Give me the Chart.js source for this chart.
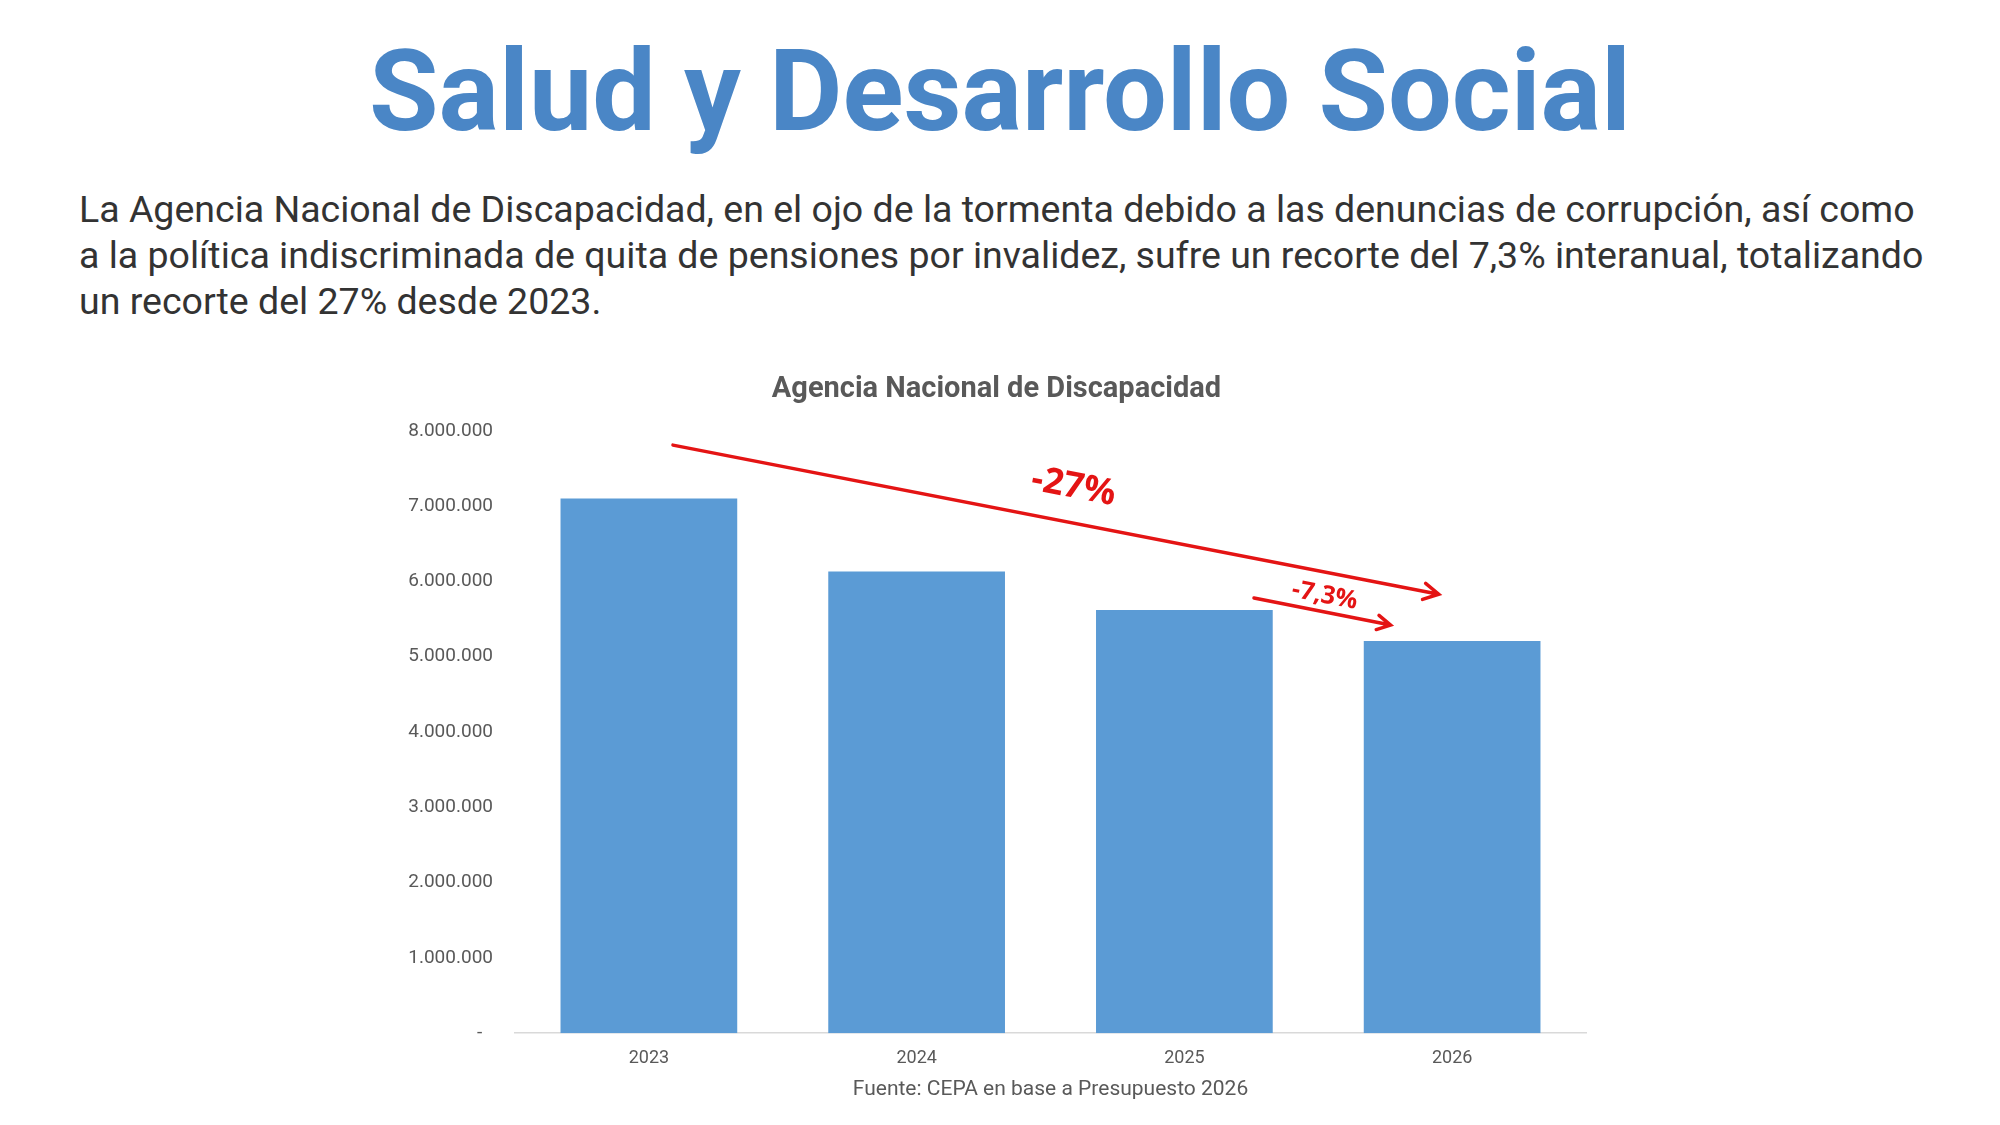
<!DOCTYPE html>
<html lang="es">
<head>
<meta charset="utf-8">
<title>Salud y Desarrollo Social</title>
<script src="https://cdn.jsdelivr.net/npm/chart.js@4.4.1/dist/chart.umd.min.js"></script>
<style>
  html, body { margin: 0; padding: 0; background: #fff; }
  body { width: 2000px; height: 1125px; position: relative; overflow: hidden; font-family: Roboto, "Noto Sans", sans-serif; }
  h1 {
    position: absolute; left: 0; top: 22px; width: 2000px; margin: 0;
    text-align: center; font-size: 113px; font-weight: 700; color: #4a86c6; line-height: 140px;
  }
  p.intro {
    position: absolute; left: 79px; top: 186px; width: 1862px; margin: 0;
    font-size: 37.5px; line-height: 46px; color: #333333;
  }
  #wrap { position: absolute; left: 340px; top: 362px; width: 1280px; height: 750px; }
</style>
</head>
<body>
<h1>Salud y Desarrollo Social</h1>
<p class="intro">La Agencia Nacional de Discapacidad, en el ojo de la tormenta debido a las denuncias de corrupción, así como a la política indiscriminada de quita de pensiones por invalidez, sufre un recorte del 7,3% interanual, totalizando un recorte del 27% desde 2023.</p>
<div id="wrap"><canvas id="anadis-chart"></canvas></div>
<script>
const years = ['2023', '2024', '2025', '2026'];
const budget = [7100000, 6130000, 5620000, 5210000];
const yTicks = [0, 1000000, 2000000, 3000000, 4000000, 5000000, 6000000, 7000000, 8000000];

// red arrows, in chart units: [category index, value]
const arrows = [
  { from: [0.09, 7810000], to: [2.95, 5830000], width: 3.5, head: 17 },
  { from: [2.26, 5780000], to: [2.77, 5420000], width: 3.5, head: 15 },
];
const arrowLabels = [
  { text: '-27%', at: [1.586, 7250000], size: 36 },
  { text: '-7,3%', at: [2.524, 5810000], size: 25 },
];

// accounting style: zero shows as a dash
const fmt = (v) => v === 0 ? '-\u2007' : String(v).replace(/\B(?=(\d{3})+(?!\d))/g, '.');

const arrowPlugin = {
  id: 'arrows',
  afterDatasetsDraw(chart) {
    const { ctx, scales: { x, y } } = chart;
    ctx.save();
    ctx.strokeStyle = '#e41414';
    ctx.fillStyle = '#e41414';
    ctx.lineCap = 'round';
    arrows.forEach((a) => {
      const x1 = x.getPixelForValue(a.from[0]);
      const y1 = y.getPixelForValue(a.from[1]);
      const x2 = x.getPixelForValue(a.to[0]);
      const y2 = y.getPixelForValue(a.to[1]);
      const ang = Math.atan2(y2 - y1, x2 - x1);
      ctx.lineWidth = a.width;
      ctx.beginPath();
      ctx.moveTo(x1, y1);
      ctx.lineTo(x2, y2);
      ctx.moveTo(x2 - a.head * Math.cos(ang - 0.5), y2 - a.head * Math.sin(ang - 0.5));
      ctx.lineTo(x2, y2);
      ctx.lineTo(x2 - a.head * Math.cos(ang + 0.5), y2 - a.head * Math.sin(ang + 0.5));
      ctx.stroke();
    });
    arrowLabels.forEach((l) => {
      const px = x.getPixelForValue(l.at[0]);
      const py = y.getPixelForValue(l.at[1]);
      ctx.save();
      ctx.translate(px, py);
      ctx.rotate(0.19);
      ctx.font = `700 ${l.size}px "Open Sans", "Noto Sans", sans-serif`;
      ctx.textAlign = 'center';
      ctx.textBaseline = 'middle';
      ctx.fillText(l.text, 0, 0);
      ctx.restore();
    });
    ctx.restore();
  }
};

const ctx = document.getElementById('anadis-chart').getContext('2d');
new Chart(ctx, {
  type: 'bar',
  data: {
    labels: years,
    datasets: [{
      label: 'Agencia Nacional de Discapacidad',
      data: budget,
      backgroundColor: '#5b9bd5',
      borderWidth: 0,
      categoryPercentage: 0.66,
      barPercentage: 1,
    }],
  },
  options: {
    responsive: true,
    maintainAspectRatio: false,
    animation: false,
    devicePixelRatio: 1,
    layout: { padding: { left: 67, right: 34, top: 0, bottom: 0 } },
    plugins: {
      legend: { display: false },
      tooltip: { enabled: false },
      title: {
        display: true,
        text: 'Agencia Nacional de Discapacidad',
        color: '#595959',
        font: { family: 'Roboto', size: 29, weight: '700' },
        padding: { top: 10, bottom: 24 },
      },
    },
    scales: {
      x: {
        grid: { display: false, drawTicks: false },
        border: { display: true, color: '#d9d9d9', width: 1.5 },
        ticks: { color: '#595959', font: { family: 'Roboto', size: 18 }, padding: 14 },
        title: {
          display: true,
          text: 'Fuente: CEPA en base a Presupuesto 2026',
          color: '#595959',
          font: { family: 'Roboto', size: 21 },
          padding: { top: -6, bottom: 10 },
        },
      },
      y: {
        min: 0,
        max: 8000000,
        afterBuildTicks: (axis) => { axis.ticks = yTicks.map((v) => ({ value: v })); },
        afterFit: (axis) => { axis.width = 108; },
        grid: { display: false, drawTicks: false },
        border: { display: false },
        ticks: {
          color: '#595959',
          font: { family: 'Roboto', size: 19 },
          padding: 22,
          callback: fmt,
        },
      },
    },
  },
  plugins: [arrowPlugin],
});
</script>
</body>
</html>
